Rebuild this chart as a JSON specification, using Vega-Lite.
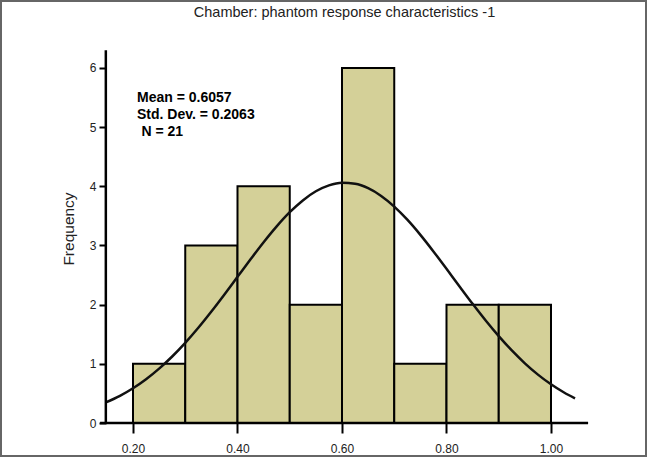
{
  "$schema": "https://vega.github.io/schema/vega-lite/v6.json",
  "width": 645,
  "height": 455,
  "padding": {"left": 1, "top": 1, "right": 1, "bottom": 2},
  "autosize": {"type": "none"},
  "background": "white",
  "config": {
    "view": {"stroke": "#666666", "strokeWidth": 2},
    "font": "Liberation Sans"
  },
  "title": {
    "text": "Chamber: phantom response characteristics -1",
    "font": "Liberation Sans",
    "fontSize": 14.5,
    "fontWeight": "normal",
    "color": "#222222",
    "anchor": "middle",
    "frame": "group",
    "baseline": "middle",
    "offset": -12,
    "dx": 21,
    "dy": 14
  },
  "datasets": {
    "bins": [
      {"bin_start": 0.2, "bin_end": 0.3, "count": 1},
      {"bin_start": 0.3, "bin_end": 0.4, "count": 3},
      {"bin_start": 0.4, "bin_end": 0.5, "count": 4},
      {"bin_start": 0.5, "bin_end": 0.6, "count": 2},
      {"bin_start": 0.6, "bin_end": 0.7, "count": 6},
      {"bin_start": 0.7, "bin_end": 0.8, "count": 1},
      {"bin_start": 0.8, "bin_end": 0.9, "count": 2},
      {"bin_start": 0.9, "bin_end": 1.0, "count": 2}
    ],
    "curve": [
      {"x": 0.148, "freq": 0.347},
      {"x": 0.175, "freq": 0.459},
      {"x": 0.2, "freq": 0.587},
      {"x": 0.225, "freq": 0.740},
      {"x": 0.25, "freq": 0.919},
      {"x": 0.275, "freq": 1.124},
      {"x": 0.3, "freq": 1.355},
      {"x": 0.325, "freq": 1.609},
      {"x": 0.35, "freq": 1.884},
      {"x": 0.375, "freq": 2.173},
      {"x": 0.4, "freq": 2.470},
      {"x": 0.425, "freq": 2.767},
      {"x": 0.45, "freq": 3.055},
      {"x": 0.475, "freq": 3.323},
      {"x": 0.5, "freq": 3.562},
      {"x": 0.525, "freq": 3.762},
      {"x": 0.55, "freq": 3.916},
      {"x": 0.575, "freq": 4.016},
      {"x": 0.6, "freq": 4.060},
      {"x": 0.625, "freq": 4.043},
      {"x": 0.65, "freq": 3.969},
      {"x": 0.675, "freq": 3.838},
      {"x": 0.7, "freq": 3.658},
      {"x": 0.725, "freq": 3.436},
      {"x": 0.75, "freq": 3.180},
      {"x": 0.775, "freq": 2.900},
      {"x": 0.8, "freq": 2.606},
      {"x": 0.825, "freq": 2.308},
      {"x": 0.85, "freq": 2.014},
      {"x": 0.875, "freq": 1.732},
      {"x": 0.9, "freq": 1.468},
      {"x": 0.925, "freq": 1.226},
      {"x": 0.95, "freq": 1.009},
      {"x": 0.975, "freq": 0.818},
      {"x": 1.0, "freq": 0.654},
      {"x": 1.025, "freq": 0.515},
      {"x": 1.046, "freq": 0.416}
    ],
    "one": [{}]
  },
  "layer": [
    {
      "data": {"name": "bins"},
      "mark": {"type": "bar", "fill": "#d4d098", "stroke": "#000000", "strokeWidth": 2},
      "encoding": {
        "x": {
          "field": "bin_start",
          "type": "quantitative",
          "scale": {"domain": [-0.05263, 1.18182], "nice": false, "zero": false},
          "axis": {
            "orient": "bottom",
            "offset": -33,
            "domain": false,
            "grid": false,
            "values": [0.2, 0.4, 0.6, 0.8, 1.0],
            "format": ".2f",
            "tickSize": 10,
            "tickWidth": 2,
            "tickColor": "#000000",
            "labelPadding": 10,
            "labelFontSize": 12,
            "labelColor": "#222222",
            "labelFont": "Liberation Sans",
            "title": null
          }
        },
        "x2": {"field": "bin_end"},
        "y": {
          "field": "count",
          "type": "quantitative",
          "scale": {"domain": [-0.5577, 7.132], "nice": false, "zero": false},
          "axis": {
            "orient": "left",
            "offset": -105,
            "domain": false,
            "grid": false,
            "values": [0, 1, 2, 3, 4, 5, 6],
            "format": "d",
            "tickSize": 7,
            "tickWidth": 2,
            "tickColor": "#000000",
            "labelPadding": 3,
            "labelFontSize": 12,
            "labelColor": "#222222",
            "labelFont": "Liberation Sans",
            "title": "Frequency",
            "titleFont": "Liberation Sans",
            "titleFontSize": 15.5,
            "titleFontWeight": "normal",
            "titleColor": "#222222",
            "titlePadding": 13
          }
        },
        "y2": {"datum": 0}
      }
    },
    {
      "data": {"name": "curve"},
      "mark": {"type": "line", "color": "#111111", "strokeWidth": 2.5, "interpolate": "monotone"},
      "encoding": {
        "x": {"field": "x", "type": "quantitative"},
        "y": {"field": "freq", "type": "quantitative"}
      }
    },
    {
      "data": {"name": "one"},
      "mark": {"type": "rule", "color": "#000000", "strokeWidth": 2.5},
      "encoding": {
        "x": {"datum": 0.148, "type": "quantitative"},
        "y": {"datum": 0, "type": "quantitative"},
        "y2": {"datum": 6.30}
      }
    },
    {
      "data": {"name": "one"},
      "mark": {"type": "rule", "color": "#000000", "strokeWidth": 2.5},
      "encoding": {
        "y": {"datum": 0, "type": "quantitative"},
        "x": {"datum": 0.137, "type": "quantitative"},
        "x2": {"datum": 1.071}
      }
    },
    {
      "data": {"name": "one"},
      "mark": {
        "type": "text",
        "text": ["Mean = 0.6057", "Std. Dev. = 0.2063"],
        "align": "left",
        "baseline": "middle",
        "font": "Liberation Sans",
        "fontSize": 14,
        "fontWeight": "bold",
        "lineHeight": 16.8,
        "color": "#000000"
      },
      "encoding": {
        "x": {"datum": 0.2077, "type": "quantitative"},
        "y": {"datum": 5.49, "type": "quantitative"}
      }
    },
    {
      "data": {"name": "one"},
      "mark": {
        "type": "text",
        "text": "N = 21",
        "align": "left",
        "baseline": "middle",
        "font": "Liberation Sans",
        "fontSize": 14,
        "fontWeight": "bold",
        "color": "#000000"
      },
      "encoding": {
        "x": {"datum": 0.2163, "type": "quantitative"},
        "y": {"datum": 4.92, "type": "quantitative"}
      }
    }
  ]
}
